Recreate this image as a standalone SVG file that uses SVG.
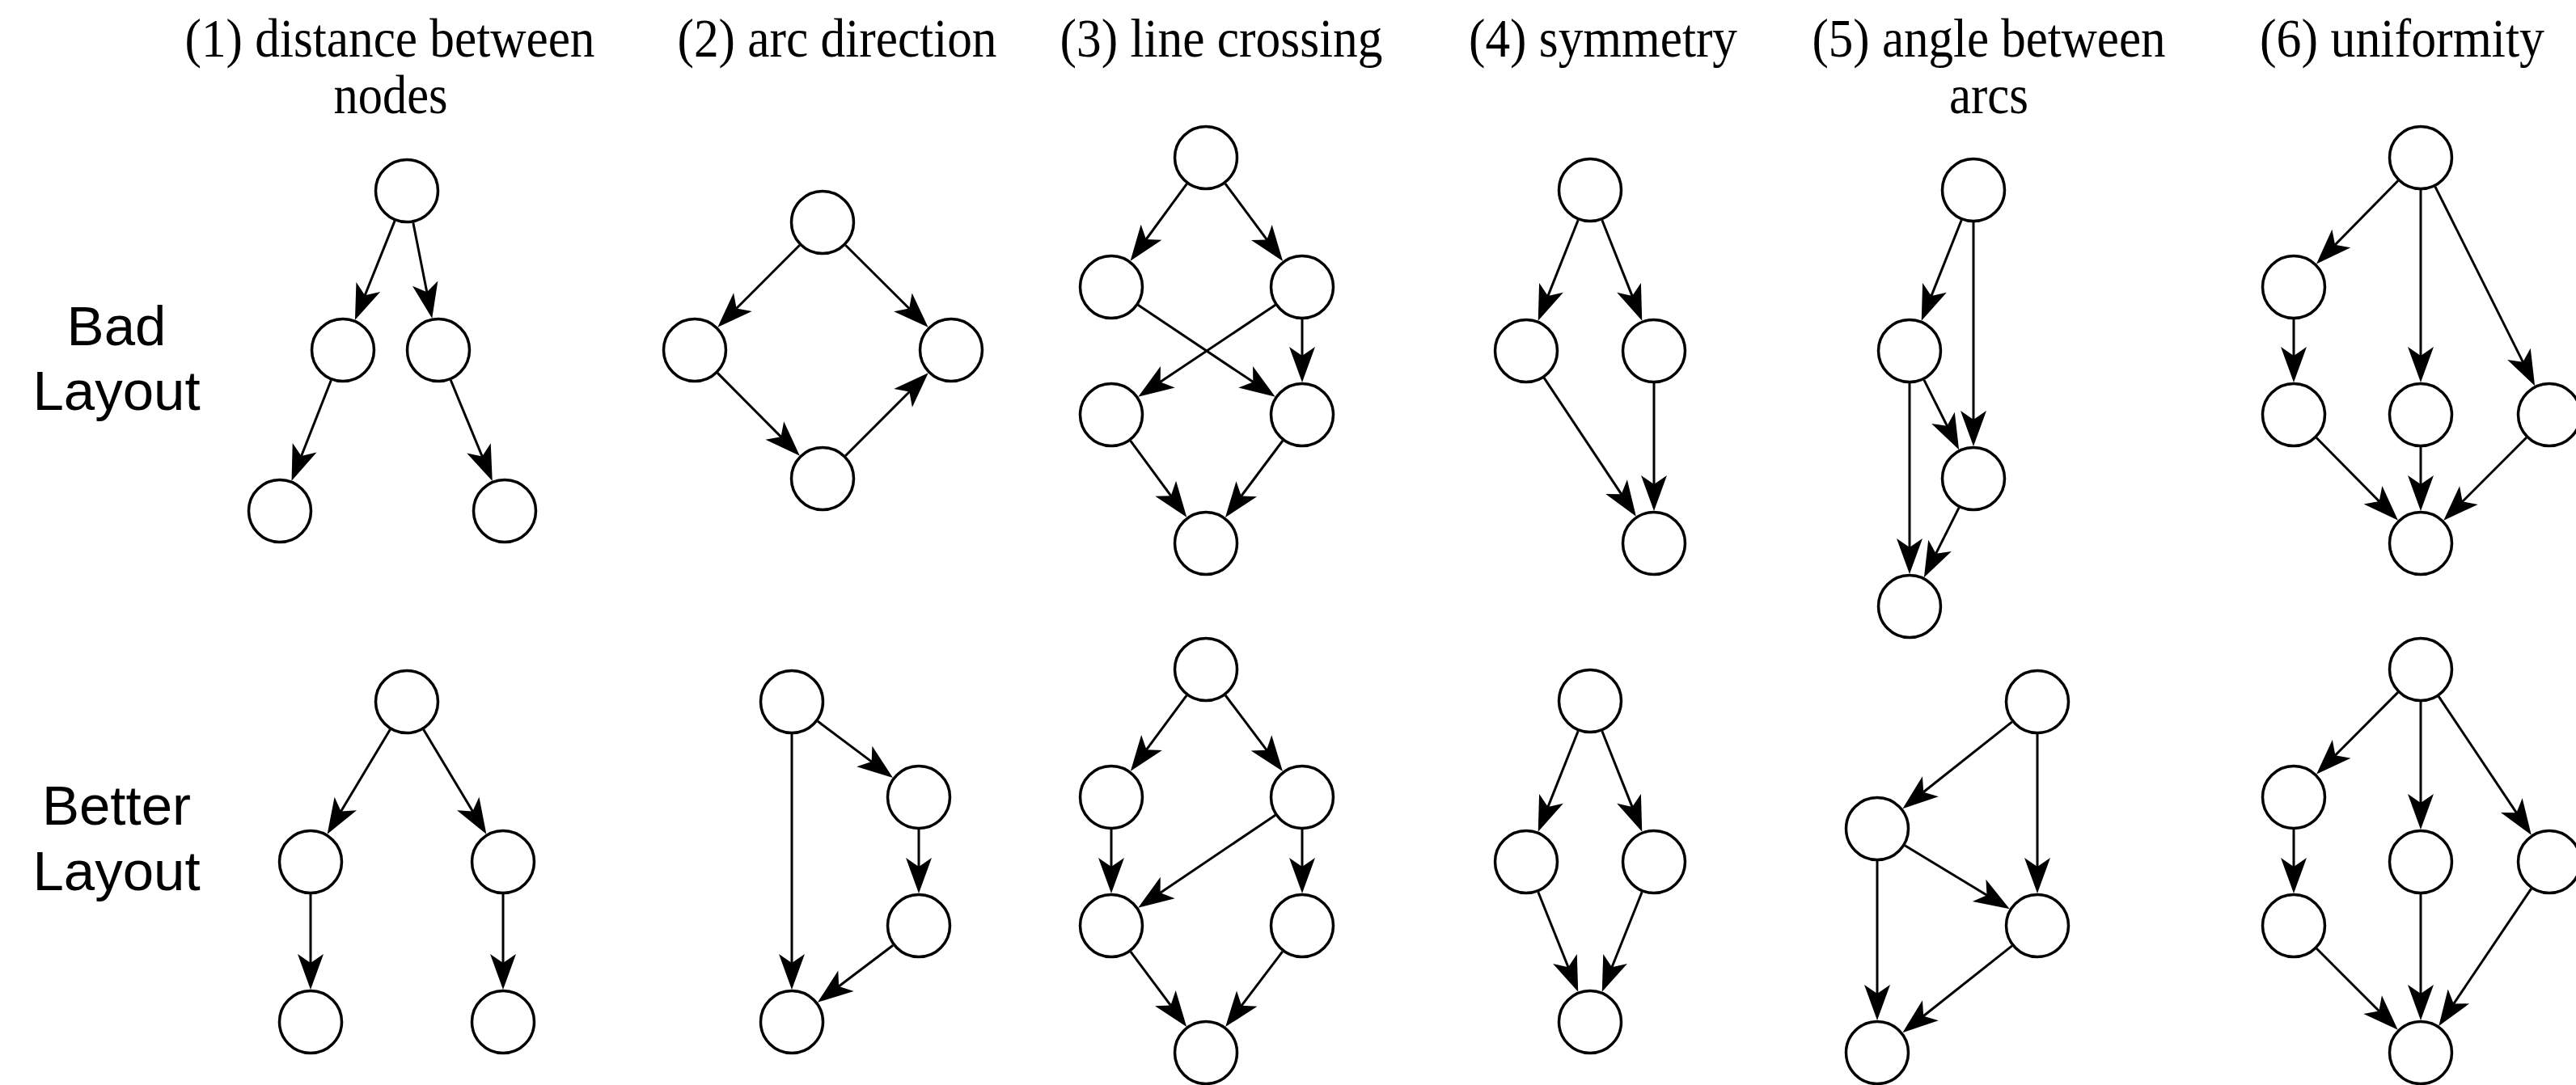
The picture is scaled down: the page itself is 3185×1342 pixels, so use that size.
<svg xmlns="http://www.w3.org/2000/svg" width="3185" height="1342" viewBox="0 0 3185 1342">
  <style>
    .node circle { fill: #ffffff; stroke: #000000; stroke-width: 3.5; }
    .edge { stroke: #000000; stroke-width: 3; fill: none; marker-end: url(#arrow); }
    .title { font-family: "Liberation Serif", "Times New Roman", serif; font-size: 68px; fill: #000000; text-anchor: middle; }
    .row { font-family: "Liberation Sans", Arial, sans-serif; font-size: 69px; fill: #000000; text-anchor: middle; }
  </style>
  <defs>
    <marker id="arrow" viewBox="-20 -20 60 40" refX="0" refY="0" markerWidth="60" markerHeight="40" markerUnits="userSpaceOnUse" orient="auto">
      <path d="M30,0 L-14,-16 L-3,0 L-14,16 Z" fill="#000000"/>
    </marker>
  </defs>
  <rect width="3185" height="1342" fill="#ffffff"/>

  <!-- column headings -->
  <g id="headings">
    <text class="title" x="482" y="70" textLength="507" lengthAdjust="spacingAndGlyphs">(1) distance between</text>
    <text class="title" x="483" y="140" textLength="141" lengthAdjust="spacingAndGlyphs">nodes</text>
    <text class="title" x="1035" y="70" textLength="395" lengthAdjust="spacingAndGlyphs">(2) arc direction</text>
    <text class="title" x="1510" y="70" textLength="399" lengthAdjust="spacingAndGlyphs">(3) line crossing</text>
    <text class="title" x="1982" y="70" textLength="332" lengthAdjust="spacingAndGlyphs">(4) symmetry</text>
    <text class="title" x="2459" y="70" textLength="437" lengthAdjust="spacingAndGlyphs">(5) angle between</text>
    <text class="title" x="2459" y="140" textLength="98" lengthAdjust="spacingAndGlyphs">arcs</text>
    <text class="title" x="2970" y="70" textLength="352" lengthAdjust="spacingAndGlyphs">(6) uniformity</text>
  </g>

  <!-- row labels -->
  <g id="row-labels">
    <text class="row" x="144" y="427">Bad</text>
    <text class="row" x="144" y="507">Layout</text>
    <text class="row" x="144" y="1020">Better</text>
    <text class="row" x="144" y="1101">Layout</text>
  </g>

  <!-- connectors -->
  <g id="connectors">
    <!-- (1) bad -->
    <line class="edge" x1="488.1" y1="273.1" x2="450.1" y2="368.0"/>
    <line class="edge" x1="510.8" y1="275.2" x2="528.4" y2="364.3"/>
    <line class="edge" x1="409.4" y1="470.2" x2="371.5" y2="566.8"/>
    <line class="edge" x1="557.2" y1="470.0" x2="597.3" y2="567.3"/>
    <!-- (2) bad -->
    <line class="edge" x1="988.7" y1="303.3" x2="908.5" y2="383.5"/>
    <line class="edge" x1="1045.4" y1="303.2" x2="1126.3" y2="383.7"/>
    <line class="edge" x1="887.2" y1="461.4" x2="967.7" y2="542.4"/>
    <line class="edge" x1="1045.3" y1="563.7" x2="1126.5" y2="482.5"/>
    <!-- (3) bad -->
    <line class="edge" x1="1467.4" y1="227.3" x2="1415.3" y2="298.5"/>
    <line class="edge" x1="1514.9" y1="227.1" x2="1568.2" y2="298.8"/>
    <line class="edge" x1="1407.2" y1="377.3" x2="1551.8" y2="474.1"/>
    <line class="edge" x1="1576.8" y1="377.3" x2="1432.2" y2="474.1"/>
    <line class="edge" x1="1610" y1="395" x2="1610" y2="443"/>
    <line class="edge" x1="1397.7" y1="545.2" x2="1449.5" y2="615.6"/>
    <line class="edge" x1="1586.0" y1="545.0" x2="1532.9" y2="616.0"/>
    <!-- (4) bad -->
    <line class="edge" x1="1951.2" y1="272.2" x2="1912.8" y2="368.9"/>
    <line class="edge" x1="1980.8" y1="272.2" x2="2019.2" y2="368.9"/>
    <line class="edge" x1="1909.1" y1="467.3" x2="2006.3" y2="613.7"/>
    <line class="edge" x1="2045" y1="474" x2="2045" y2="602"/>
    <!-- (5) bad -->
    <line class="edge" x1="2425.2" y1="272.2" x2="2386.8" y2="368.9"/>
    <line class="edge" x1="2440" y1="275" x2="2440" y2="522"/>
    <line class="edge" x1="2378.9" y1="469.8" x2="2408.7" y2="529.4"/>
    <line class="edge" x1="2361" y1="474" x2="2361" y2="680"/>
    <line class="edge" x1="2422.1" y1="627.8" x2="2392.3" y2="687.4"/>
    <!-- (6) bad -->
    <line class="edge" x1="2965.0" y1="223.5" x2="2885.0" y2="305.0"/>
    <line class="edge" x1="2993" y1="235" x2="2993" y2="443"/>
    <line class="edge" x1="3010.9" y1="230.8" x2="3120.7" y2="450.4"/>
    <line class="edge" x1="2836" y1="395" x2="2836" y2="443"/>
    <line class="edge" x1="2864.1" y1="541.5" x2="2943.8" y2="622.2"/>
    <line class="edge" x1="2993" y1="553" x2="2993" y2="602"/>
    <line class="edge" x1="3123.7" y1="541.3" x2="3042.5" y2="622.5"/>

    <!-- (1) better -->
    <line class="edge" x1="482.4" y1="902.3" x2="420.1" y2="1006.0"/>
    <line class="edge" x1="523.6" y1="902.3" x2="585.9" y2="1006.0"/>
    <line class="edge" x1="384" y1="1106" x2="384" y2="1194"/>
    <line class="edge" x1="622" y1="1106" x2="622" y2="1194"/>
    <!-- (2) better -->
    <line class="edge" x1="1011.0" y1="892.0" x2="1080.0" y2="943.9"/>
    <line class="edge" x1="1136" y1="1026" x2="1136" y2="1075"/>
    <line class="edge" x1="1104.1" y1="1169.2" x2="1034.8" y2="1221.7"/>
    <line class="edge" x1="979" y1="908" x2="979" y2="1194"/>
    <!-- (3) better -->
    <line class="edge" x1="1467.2" y1="860.1" x2="1415.7" y2="929.7"/>
    <line class="edge" x1="1515.1" y1="860.0" x2="1567.9" y2="930.1"/>
    <line class="edge" x1="1374" y1="1026" x2="1374" y2="1075"/>
    <line class="edge" x1="1576.8" y1="1008.3" x2="1432.1" y2="1105.9"/>
    <line class="edge" x1="1610" y1="1026" x2="1610" y2="1075"/>
    <line class="edge" x1="1397.9" y1="1177.1" x2="1449.2" y2="1245.9"/>
    <line class="edge" x1="1585.8" y1="1176.9" x2="1533.3" y2="1246.2"/>
    <!-- (4) better -->
    <line class="edge" x1="1951.2" y1="904.2" x2="1912.8" y2="1000.9"/>
    <line class="edge" x1="1980.8" y1="904.2" x2="2019.2" y2="1000.9"/>
    <line class="edge" x1="1901.8" y1="1103.2" x2="1940.1" y2="1199.0"/>
    <line class="edge" x1="2030.2" y1="1103.2" x2="1991.9" y2="1199.0"/>
    <!-- (5) better -->
    <line class="edge" x1="2487.7" y1="892.9" x2="2375.9" y2="981.5"/>
    <line class="edge" x1="2519" y1="908" x2="2519" y2="1075"/>
    <line class="edge" x1="2355.2" y1="1045.7" x2="2459.1" y2="1108.7"/>
    <line class="edge" x1="2321" y1="1065" x2="2321" y2="1232"/>
    <line class="edge" x1="2487.7" y1="1169.9" x2="2375.9" y2="1258.5"/>
    <!-- (6) better -->
    <line class="edge" x1="2964.8" y1="856.4" x2="2885.3" y2="936.3"/>
    <line class="edge" x1="2993" y1="868" x2="2993" y2="996"/>
    <line class="edge" x1="3015.2" y1="861.3" x2="3113.1" y2="1007.8"/>
    <line class="edge" x1="2836" y1="1026" x2="2836" y2="1075"/>
    <line class="edge" x1="2864.3" y1="1173.3" x2="2943.5" y2="1252.5"/>
    <line class="edge" x1="2993" y1="1106" x2="2993" y2="1232"/>
    <line class="edge" x1="3129.7" y1="1099.2" x2="3032.1" y2="1244.0"/>
  </g>

  <!-- nodes: bad layouts -->
  <g id="p1-bad">
    <g id="p1b-a" class="node"><circle cx="503" cy="236" r="38.5"/></g>
    <g id="p1b-b" class="node"><circle cx="424" cy="433" r="38.5"/></g>
    <g id="p1b-c" class="node"><circle cx="542" cy="433" r="38.5"/></g>
    <g id="p1b-d" class="node"><circle cx="346" cy="632" r="38.5"/></g>
    <g id="p1b-e" class="node"><circle cx="624" cy="632" r="38.5"/></g>
  </g>
  <g id="p2-bad">
    <g id="p2b-a" class="node"><circle cx="1017" cy="275" r="38.5"/></g>
    <g id="p2b-b" class="node"><circle cx="859" cy="433" r="38.5"/></g>
    <g id="p2b-c" class="node"><circle cx="1176" cy="433" r="38.5"/></g>
    <g id="p2b-d" class="node"><circle cx="1017" cy="592" r="38.5"/></g>
  </g>
  <g id="p3-bad">
    <g id="p3b-a" class="node"><circle cx="1491" cy="195" r="38.5"/></g>
    <g id="p3b-b" class="node"><circle cx="1374" cy="355" r="38.5"/></g>
    <g id="p3b-c" class="node"><circle cx="1610" cy="355" r="38.5"/></g>
    <g id="p3b-d" class="node"><circle cx="1374" cy="513" r="38.5"/></g>
    <g id="p3b-e" class="node"><circle cx="1610" cy="513" r="38.5"/></g>
    <g id="p3b-f" class="node"><circle cx="1491" cy="672" r="38.5"/></g>
  </g>
  <g id="p4-bad">
    <g id="p4b-a" class="node"><circle cx="1966" cy="235" r="38.5"/></g>
    <g id="p4b-b" class="node"><circle cx="1887" cy="434" r="38.5"/></g>
    <g id="p4b-c" class="node"><circle cx="2045" cy="434" r="38.5"/></g>
    <g id="p4b-d" class="node"><circle cx="2045" cy="672" r="38.5"/></g>
  </g>
  <g id="p5-bad">
    <g id="p5b-a" class="node"><circle cx="2440" cy="235" r="38.5"/></g>
    <g id="p5b-b" class="node"><circle cx="2361" cy="434" r="38.5"/></g>
    <g id="p5b-c" class="node"><circle cx="2440" cy="592" r="38.5"/></g>
    <g id="p5b-d" class="node"><circle cx="2361" cy="750" r="38.5"/></g>
  </g>
  <g id="p6-bad">
    <g id="p6b-a" class="node"><circle cx="2993" cy="195" r="38.5"/></g>
    <g id="p6b-b" class="node"><circle cx="2836" cy="355" r="38.5"/></g>
    <g id="p6b-c" class="node"><circle cx="2836" cy="513" r="38.5"/></g>
    <g id="p6b-d" class="node"><circle cx="2993" cy="513" r="38.5"/></g>
    <g id="p6b-e" class="node"><circle cx="3152" cy="513" r="38.5"/></g>
    <g id="p6b-f" class="node"><circle cx="2993" cy="672" r="38.5"/></g>
  </g>

  <!-- nodes: better layouts -->
  <g id="p1-better">
    <g id="p1g-a" class="node"><circle cx="503" cy="868" r="38.5"/></g>
    <g id="p1g-b" class="node"><circle cx="384" cy="1066" r="38.5"/></g>
    <g id="p1g-c" class="node"><circle cx="622" cy="1066" r="38.5"/></g>
    <g id="p1g-d" class="node"><circle cx="384" cy="1264" r="38.5"/></g>
    <g id="p1g-e" class="node"><circle cx="622" cy="1264" r="38.5"/></g>
  </g>
  <g id="p2-better">
    <g id="p2g-a" class="node"><circle cx="979" cy="868" r="38.5"/></g>
    <g id="p2g-b" class="node"><circle cx="1136" cy="986" r="38.5"/></g>
    <g id="p2g-c" class="node"><circle cx="1136" cy="1145" r="38.5"/></g>
    <g id="p2g-d" class="node"><circle cx="979" cy="1264" r="38.5"/></g>
  </g>
  <g id="p3-better">
    <g id="p3g-a" class="node"><circle cx="1491" cy="828" r="38.5"/></g>
    <g id="p3g-b" class="node"><circle cx="1374" cy="986" r="38.5"/></g>
    <g id="p3g-c" class="node"><circle cx="1610" cy="986" r="38.5"/></g>
    <g id="p3g-d" class="node"><circle cx="1374" cy="1145" r="38.5"/></g>
    <g id="p3g-e" class="node"><circle cx="1610" cy="1145" r="38.5"/></g>
    <g id="p3g-f" class="node"><circle cx="1491" cy="1302" r="38.5"/></g>
  </g>
  <g id="p4-better">
    <g id="p4g-a" class="node"><circle cx="1966" cy="867" r="38.5"/></g>
    <g id="p4g-b" class="node"><circle cx="1887" cy="1066" r="38.5"/></g>
    <g id="p4g-c" class="node"><circle cx="2045" cy="1066" r="38.5"/></g>
    <g id="p4g-d" class="node"><circle cx="1966" cy="1264" r="38.5"/></g>
  </g>
  <g id="p5-better">
    <g id="p5g-a" class="node"><circle cx="2519" cy="868" r="38.5"/></g>
    <g id="p5g-b" class="node"><circle cx="2321" cy="1025" r="38.5"/></g>
    <g id="p5g-c" class="node"><circle cx="2519" cy="1145" r="38.5"/></g>
    <g id="p5g-d" class="node"><circle cx="2321" cy="1302" r="38.5"/></g>
  </g>
  <g id="p6-better">
    <g id="p6g-a" class="node"><circle cx="2993" cy="828" r="38.5"/></g>
    <g id="p6g-b" class="node"><circle cx="2836" cy="986" r="38.5"/></g>
    <g id="p6g-c" class="node"><circle cx="2836" cy="1145" r="38.5"/></g>
    <g id="p6g-d" class="node"><circle cx="2993" cy="1066" r="38.5"/></g>
    <g id="p6g-e" class="node"><circle cx="3152" cy="1066" r="38.5"/></g>
    <g id="p6g-f" class="node"><circle cx="2993" cy="1302" r="38.5"/></g>
  </g>
</svg>
